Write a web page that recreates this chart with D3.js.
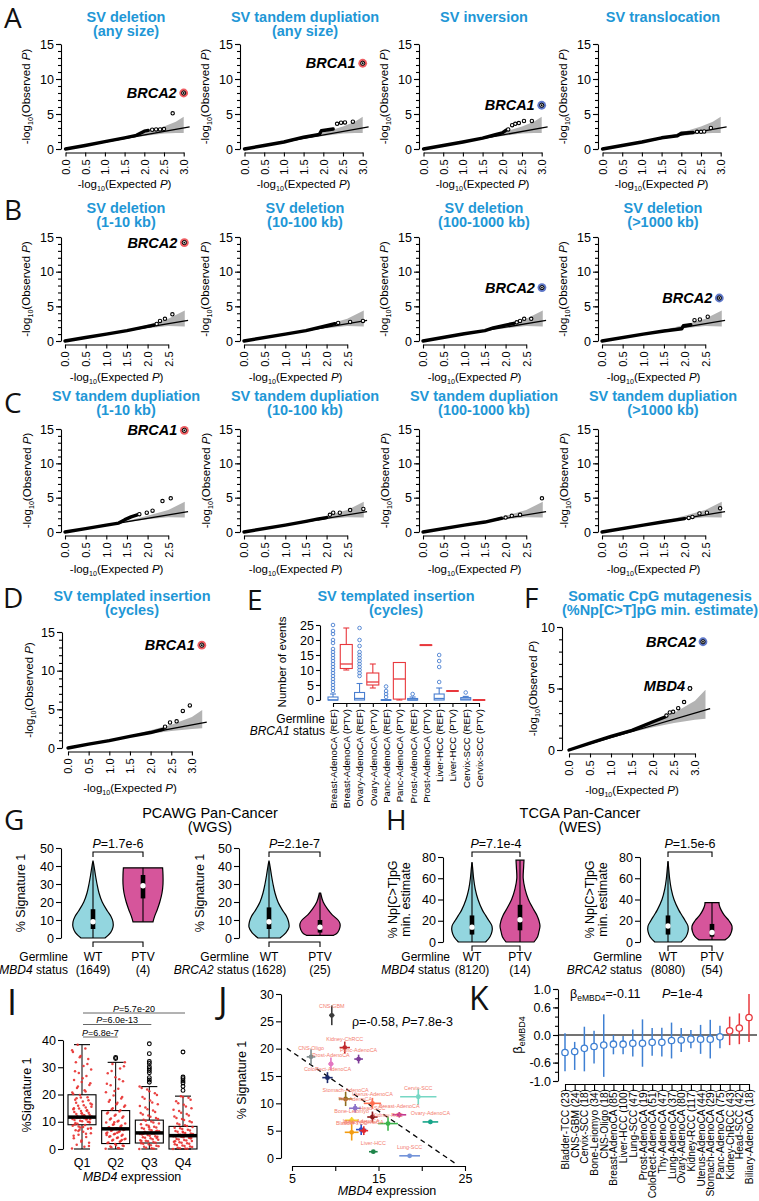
<!DOCTYPE html>
<html><head><meta charset="utf-8">
<script src="https://cdn.jsdelivr.net/npm/d3@7"></script>
<style>body{margin:0;background:#fff}svg{display:block}</style>
</head><body>
<script>
// ================= DATA =================
// QQ plots: points are [expected -log10 P, observed -log10 P]
const titlesA = [["SV deletion","(any size)"],["SV tandem dupliation","(any size)"],["SV inversion"],["SV translocation"]];
const bulkA = [
  [[0,0],[0.5,0.5],[1.0,1.05],[1.5,1.6],[1.8,1.95],[2.0,2.55],[2.1,2.65]],
  [[0,0],[0.5,0.5],[1.0,1.0],[1.5,1.7],[1.9,2.1],[1.95,2.6],[2.25,2.85]],
  [[0,0],[0.5,0.5],[1.0,1.0],[1.5,1.55],[1.8,2.0],[2.0,2.3],[2.1,2.7]],
  [[0,0],[0.5,0.5],[1.0,1.0],[1.5,1.6],[1.9,1.9],[2.0,2.25],[2.3,2.35]]
];
const tailA = [
  [[2.2,2.75],[2.3,2.8],[2.4,2.8],[2.5,2.85],[2.72,5.1]],
  [[2.35,3.6],[2.45,3.75],[2.55,3.8],[2.75,3.9]],
  [[2.15,2.8],[2.25,3.4],[2.33,3.6],[2.42,3.7],[2.55,4.0],[2.75,4.0]],
  [[2.4,2.45],[2.5,2.45],[2.58,2.5],[2.75,3.0]]
];
const hitsA = [[["BRCA2",3.0,8.0,"red"]],[["BRCA1",3.0,12.25,"red"]],[["BRCA1",3.0,6.25,"blue"]],[]];

const titlesB = [["SV deletion","(1-10 kb)"],["SV deletion","(10-100 kb)"],["SV deletion","(100-1000 kb)"],["SV deletion","(>1000 kb)"]];
const bulkB = [
  [[0,0],[0.5,0.5],[1.0,1.0],[1.5,1.5],[2.0,2.1],[2.15,2.3]],
  [[0,0],[1.0,1.0],[1.5,1.5],[2.0,2.2],[2.2,2.5]],
  [[0,0],[1.0,1.05],[1.5,1.5],[1.7,1.9],[2.0,2.3],[2.2,2.55]],
  [[0,0],[1.0,1.0],[1.5,1.45],[1.93,1.75],[1.97,2.2],[2.15,2.35]]
];
const tailB = [
  [[2.22,2.45],[2.3,2.9],[2.42,3.2],[2.6,3.85]],
  [[2.28,2.6],[2.57,2.75],[2.88,2.9]],
  [[2.27,2.7],[2.35,2.9],[2.45,3.2],[2.62,3.2]],
  [[2.24,3.0],[2.37,3.1],[2.56,3.5]]
];
const hitsB = [[["BRCA2",2.89,14.2,"red"]],[],[["BRCA2",2.88,7.7,"blue"]],[["BRCA2",2.84,6.2,"blue"]]];

const titlesC = [["SV tandem dupliation","(1-10 kb)"],["SV tandem dupliation","(10-100 kb)"],["SV tandem dupliation","(100-1000 kb)"],["SV tandem dupliation","(>1000 kb)"]];
const bulkC = [
  [[0,0],[0.5,0.5],[1.0,1.0],[1.3,1.3],[1.45,1.8],[1.6,2.2],[1.75,2.5]],
  [[0,0],[1.0,1.0],[1.5,1.55],[1.8,1.9],[2.0,2.1]],
  [[0,0],[1.0,1.0],[1.5,1.45],[1.9,2.0]],
  [[0,0],[1.0,1.0],[1.5,1.5],[2.0,1.95]]
];
const tailC = [
  [[1.8,2.6],[1.98,2.8],[2.12,3.1],[2.36,4.5],[2.56,4.9]],
  [[2.08,2.5],[2.16,2.8],[2.32,2.8],[2.57,3.2],[2.89,3.35]],
  [[2.0,2.1],[2.15,2.35],[2.35,2.5],[2.88,4.9]],
  [[2.1,2.05],[2.19,2.2],[2.36,2.7],[2.54,2.8],[2.86,3.45]]
];
const hitsC = [[["BRCA1",2.89,14.8,"red"]],[],[],[]];

const titleD = ["SV templated insertion","(cycles)"];
const bulkD = [[0,0],[0.5,0.5],[1.0,0.95],[1.5,1.5],[2.0,2.0],[2.3,2.4]];
const tailD = [[2.35,2.75],[2.47,3.3],[2.63,3.45],[2.78,4.8],[2.95,5.5]];
const hitsD = [["BRCA1",3.24,13.3,"red"]];

const titleF = ["Somatic CpG mutagenesis","(%Np[C>T]pG min. estimate)"];
const bulkF = [[0,0],[0.5,0.55],[1.0,1.1],[1.5,1.6],[2.0,2.3],[2.3,2.7]];
const tailF = [[2.32,2.8],[2.4,3.05],[2.48,3.1],[2.6,3.4],[2.74,3.9],[2.88,5.0]];
const hitsF = [["BRCA2",3.19,8.8,"blue"],["MBD4",2.88,5.0,"none"]];

// 95% band: [expected, lower, upper]
const bandA = [[1.5,1.45,1.6],[2.0,1.85,2.35],[2.5,2.2,3.2],[2.8,2.3,3.9],[3.0,2.3,4.6]];
const bandBC = [[1.5,1.45,1.6],[2.0,1.85,2.35],[2.5,2.15,3.2],[2.9,2.1,4.4]];
const bandDF = [[1.5,1.45,1.6],[2.0,1.85,2.3],[2.5,2.2,3.0],[3.0,2.45,4.0],[3.25,2.55,4.9]];

// Panel E boxplots: [min, q1, median, q3, max]
const eTitle = ["SV templated insertion","(cycles)"];
const eCats = ["Breast-AdenoCA (REF)","Breast-AdenoCA (PTV)","Ovary-AdenoCA (REF)","Ovary-AdenoCA (PTV)","Panc-AdenoCA (REF)","Panc-AdenoCA (PTV)","Prost-AdenoCA (REF)","Prost-AdenoCA (PTV)","Liver-HCC (REF)","Liver-HCC (PTV)","Cervix-SCC (REF)","Cervix-SCC (PTV)"];
const eStats = [[0,0,0,1,2],[10,10.5,12,18.5,24],[0,0,0.5,2.5,5.5],[4,5,6,9,12],[0,0,0,0,0],[0,0.3,7,12.5,12.5],[0,0,0,0.5,1],[18.3,18.3,18.3,18.3,18.3],[0,0,0.5,2,4],[3,3,3,3,3],[0,0,0.3,0.8,1.2],[0,0,0,0,0]];
const eOutliers = [[3,4,5,6,7,8,9,10,11,12,13,14,15,16,17,19,20,22,23,25],[],[8,9,10,11,12,13,14,15,16,18,20,24],[],[1,2,3,4.5],[],[2],[],[6,11,13,15],[],[2.5],[]];

// Panels G/H violins: [value, relative density]
const vG_MBD4_WT = [[0,0.6],[3,0.88],[6,1],[9,1],[12,0.9],[15,0.72],[20,0.46],[25,0.3],[30,0.2],[35,0.12],[40,0.05],[43,0]];
const vG_MBD4_PTV = [[9,0.5],[12,0.58],[16,0.72],[20,0.84],[25,0.95],[30,1],[35,1],[39,0.98]];
const vG_BRCA2_WT = [[0,0.55],[3,0.85],[6,1],[9,0.98],[12,0.88],[15,0.7],[20,0.45],[25,0.3],[30,0.2],[35,0.12],[40,0.05],[43,0]];
const vG_BRCA2_PTV = [[1.5,0.68],[3,0.88],[6,1],[8,1],[10,0.9],[13,0.6],[16,0.38],[20,0.16],[25,0.03]];
const vH_MBD4_WT = [[0,0.68],[5,0.9],[10,1],[15,1],[20,0.85],[25,0.68],[30,0.52],[40,0.3],[50,0.16],[60,0.08],[70,0.03],[75,0]];
const vH_MBD4_PTV = [[0,0.7],[5,0.88],[10,0.95],[15,1],[20,0.95],[25,0.85],[30,0.7],[40,0.42],[50,0.25],[60,0.16],[70,0.18],[77,0.2]];
const vH_BRCA2_WT = [[0,0.66],[5,0.9],[10,1],[15,1],[20,0.86],[25,0.7],[30,0.54],[40,0.3],[50,0.16],[60,0.08],[70,0.03],[76,0]];
const vH_BRCA2_PTV = [[2,0.65],[5,0.85],[10,0.98],[15,1],[20,0.85],[25,0.62],[30,0.46],[35,0.36],[37,0.35]];
// [min, q1, median, q3, max] for WT, PTV
const bG_MBD4 = [[0,5,9,16,42],[9,22,29,35,39]];
const bG_BRCA2 = [[0,5,9,17,42],[1.5,3,6,10,25]];
const bH_MBD4 = [[0,7,14,25,75],[0,11,21,35,77]];
const bH_BRCA2 = [[0,7,15,25,76],[2,5,9,17,37]];
const groupsGH = ["WT","PTV"];
const countsG = [["(1649)","(4)"],["(1628)","(25)"]];
const countsH = [["(8120)","(14)"],["(8080)","(54)"]];
const pvalsG = ["1.7e-6","2.1e-7"];
const pvalsH = ["7.1e-4","1.5e-6"];

// Panel I
const iGroups = ["Q1","Q2","Q3","Q4"];
const iStats = [[0,8.9,11.7,19.9,38.3],[0,2.0,7.4,14.1,31.8],[0,2.2,5.9,10.6,22.9],[0,0,4.9,8.3,19.4]];
const iQ1 = [0.2,0.8,1.6,2.3,3.1,3.9,4.4,5.2,5.8,6.3,6.9,7.4,7.9,8.5,8.8,9.3,9.7,10.2,10.6,11.1,11.5,11.9,12.4,12.8,13.3,13.9,14.6,15.2,15.9,16.7,17.4,18.1,19.0,19.8,20.7,21.6,22.4,23.5,24.6,25.3,26.8,27.9,29.2,30.5,31.8,33.0,34.1,35.6,36.9,38.3,10.9,12.1,9.0,14.2,7.1,16.3,11.3,18.6,
  1.1,2.7,4.9,5.6,6.6,7.7,8.1,9.5,10.0,10.4,11.0,11.7,12.0,12.6,13.0,13.6,14.0,14.9,15.5,16.1,17.0,17.9,18.9,20.2,21.1,22.9,24.1,26.0,28.5,31.2,33.7,36.2,12.3,11.4,9.9,13.1,15.0,10.8,8.3,7.5];
const iQ2 = [0.1,0.4,0.9,1.3,1.8,2.2,2.7,3.1,3.6,4.0,4.5,4.9,5.4,5.8,6.2,6.7,7.0,7.4,7.8,8.3,8.9,9.4,10.1,10.8,11.5,12.2,13.0,13.8,14.6,15.5,16.4,17.3,18.5,19.6,20.8,22.1,23.4,24.9,26.3,27.8,29.5,31.2,31.8,6.0,7.6,3.3,9.8,5.1,
  0.3,0.6,1.1,1.5,2.4,2.9,3.4,3.8,4.2,4.7,5.2,5.6,6.1,6.5,6.9,7.2,7.6,8.0,8.6,9.1,9.7,10.4,11.2,11.9,12.6,13.4,14.2,15.0,16.0,17.0,18.0,19.1,21.3,23.9,25.6,28.6,30.4,7.3,7.5,7.7];
const iQ3 = [0,0.3,0.8,1.2,1.7,2.1,2.6,3.0,3.4,3.9,4.3,4.7,5.1,5.5,5.9,6.3,6.7,7.2,7.7,8.2,8.8,9.4,10.1,10.7,11.4,12.3,13.2,14.1,15.2,16.4,17.8,19.1,20.5,21.8,22.9,5.7,6.1,4.0,8.0,2.9,
  0.1,0.5,1.0,1.4,1.9,2.3,2.8,3.2,3.6,4.1,4.5,4.9,5.3,5.7,6.0,6.5,6.9,7.4,7.9,8.5,9.1,9.7,10.4,11.0,11.8,12.7,13.6,14.6,15.8,17.1,18.4,19.8,21.2,22.4,5.8,5.9,6.0,6.2,5.6,6.4];
const iQ4 = [0,0.2,0.5,0.9,1.3,1.7,2.1,2.5,2.9,3.3,3.7,4.1,4.5,4.8,5.0,5.3,5.7,6.1,6.6,7.1,7.6,8.1,8.7,9.4,10.2,11.0,11.9,12.8,13.9,15.0,16.2,17.5,18.8,19.4,4.7,5.1,4.9,3.9,6.3,2.8,
  0.1,0.3,0.7,1.1,1.5,1.9,2.3,2.7,3.1,3.5,3.9,4.3,4.6,4.9,5.2,5.5,5.9,6.3,6.8,7.3,7.8,8.4,9.0,9.8,10.6,11.4,12.3,13.3,14.4,15.6,16.8,18.1,19.1,4.8,4.9,5.0,4.7,5.1,4.9,5.0];
const iOutliers = [[],[33.2,33.6],[24.5,25.3,26.2,28.0,28.8,29.5,30.2,31.4,32.1,35.0,38.6],[21.5,23.0,24.2,25.0,25.8,26.4,35.6]];
const iTests = [["Q1","Q2","6.8e-7"],["Q1","Q3","6.0e-13"],["Q1","Q4","5.7e-20"]];

// Panel J
const jNames = ["CNS-GBM","Kidney-ChRCC","Panc-AdenoCA","CNS-Oligo","Prost-AdenoCA","ColoRect-AdenoCA","Stomach-AdenoCA","Uterus-AdenoCA","Thy-AdenoCA","Head-SCC","Breast-AdenoCA","Bone-Leiomyo","Kidney-RCC","Lung-AdenoCA","Biliary-AdenoCA","Bladder-TCC","Cervix-SCC","Ovary-AdenoCA","Liver-HCC","Lung-SCC"];
const jExpr = [9.6,11.1,12.7,7.2,9.5,9.1,11.2,14.3,12.3,14.3,17.4,11.9,16.1,13.0,13.3,11.9,19.6,21.0,14.4,18.6];
const jSig = [26.1,20.2,18.1,18.5,17.2,14.7,10.8,10.0,9.1,7.5,7.9,6.9,6.3,5.2,5.0,4.7,11.2,6.6,1.15,0.4];
const jExprErr = [0.3,0.6,0.5,0.5,0.3,0.6,0.8,1.0,0.7,0.6,0.8,0.8,1.15,0.6,0.5,0.8,2.1,0.9,0.5,1.2];
const jSigErr = [1.8,1.1,0.8,1.4,1.2,1.0,1.3,1.0,0.8,1.0,0.5,0.6,1.3,1.0,0.8,1.5,1.5,0.4,0.3,0.3];
const jColors = ["#3a3a3a","#c0282d","#7d3c98","#7f8c8d","#e377c2","#1b2a6b","#8c6d1f","#ff6f4f","#8a72c9","#8b1a1a","#c2398f","#f5d327","#3cb44b","#2d4fc8","#e0282e","#f39c12","#76d7c4","#17a589","#1e8449","#7393d9"];
const jFit = {intercept: 24.8, slope: -1.08, from: 4.4, to: 23.9};

// Panel K
const kTypes = ["Bladder-TCC","CNS-GBM","Cervix-SCC","Bone-Leiomyo","CNS-Oligo","Breast-AdenoCA","Liver-HCC","Lung-SCC","Prost-AdenoCA","ColoRect-AdenoCA","Thy-AdenoCA","Lung-AdenoCA","Ovary-AdenoCA","Kidney-RCC","Uterus-AdenoCA","Stomach-AdenoCA","Panc-AdenoCA","Kidney-ChRCC","Head-SCC","Biliary-AdenoCA"];
const kN = [23,24,18,34,18,85,100,47,19,51,47,37,80,117,44,29,75,43,42,18];
const kBeta = [-0.38,-0.36,-0.29,-0.25,-0.22,-0.20,-0.20,-0.18,-0.18,-0.16,-0.16,-0.12,-0.11,-0.09,-0.09,-0.09,-0.04,0.09,0.15,0.38];
const kLo = [-0.79,-0.76,-0.79,-0.62,-0.91,-0.42,-0.42,-0.47,-0.69,-0.45,-0.47,-0.51,-0.37,-0.29,-0.41,-0.51,-0.29,-0.22,-0.20,-0.15];
const kHi = [0.04,-0.15,0.18,0.09,0.45,0.00,-0.02,0.12,0.34,0.15,0.16,0.27,0.15,0.11,0.22,0.33,0.20,0.40,0.47,0.89];

// ================= DRAWING =================
const FONT = "'Liberation Sans', Arial, Helvetica, sans-serif";
const TBLUE = "#1f97d6";
const EBLUE = "#4a7fd0", ERED = "#e8383d";
const TEAL = "#93d6df", PINK = "#d6559b";
const svg = d3.select("body").append("svg").attr("width",759).attr("height",1201)
  .attr("font-family", FONT);
svg.append("rect").attr("width",759).attr("height",1201).attr("fill","#fff");

function styleAx(a, fs){
  a.attr("font-family", FONT).attr("font-size", fs);
  a.selectAll(".domain,line").attr("stroke","#000").attr("stroke-width",1.1);
  a.selectAll("text").attr("fill","#000");
}
function yAxis(g, scale, xPos, major, minor, fmt, fs, majLen, minLen){
  majLen = majLen ?? 5; minLen = minLen ?? 3;
  if (minor){
    const m = g.append("g").attr("transform",`translate(${xPos},0)`)
      .call(d3.axisLeft(scale).tickValues(minor).tickSize(minLen).tickSizeOuter(0).tickFormat(""));
    m.select(".domain").remove();
    m.selectAll("line").attr("stroke","#000").attr("stroke-width",1.1);
  }
  const a = g.append("g").attr("transform",`translate(${xPos},0)`)
    .call(d3.axisLeft(scale).tickValues(major).tickSize(majLen).tickSizeOuter(0).tickPadding(2).tickFormat(fmt || (d=>String(d))));
  styleAx(a, fs || 12.5);
  return a;
}
function xAxisRot(g, scale, yPos, ticks, fmt, fs, tl){
  const a = g.append("g").attr("transform",`translate(0,${yPos})`)
    .call(d3.axisBottom(scale).tickValues(ticks).tickSize(tl||4).tickSizeOuter(0).tickFormat(fmt));
  styleAx(a, fs);
  a.selectAll("text").attr("transform","rotate(-90)").attr("x",-((tl||4)+3)).attr("y",0).attr("dy","0.35em").attr("text-anchor","end");
  return a;
}
function logLabel(g, x, y, word, fs, rotate){
  const t = g.append("text").attr("transform",`translate(${x},${y})${rotate?" rotate(-90)":""}`)
    .attr("text-anchor","middle").attr("font-size",fs).attr("fill","#000");
  t.append("tspan").text("-log");
  t.append("tspan").attr("font-size",fs*0.62).attr("dy",fs*0.28).text("10");
  t.append("tspan").attr("dy",-fs*0.28).text("(" + word + "\u00A0");
  t.append("tspan").attr("font-style","italic").text("P");
  t.append("tspan").text(")");
}
function blueTitle(g, cx, y, lines){
  lines.forEach((t,i)=>g.append("text").attr("x",cx).attr("y",y+i*14).attr("text-anchor","middle")
    .attr("font-size",14.5).attr("font-weight","bold").attr("fill",TBLUE).text(t));
}

function qq(o){
  const g = svg.append("g");
  const x = d3.scaleLinear().domain([0,1]).range([o.x0, o.x0 + o.xu]);
  const y = d3.scaleLinear().domain([0,o.yMax]).range([o.y0, o.yTop]);
  if (o.title) blueTitle(g, o.tx, o.ty, o.title);
  g.append("path").datum(o.band)
    .attr("d", d3.area().x(d=>x(d[0])).y0(d=>y(d[1])).y1(d=>y(d[2])))
    .attr("fill","#b3b3b3");
  g.append("line").attr("x1",x(0)).attr("y1",y(0)).attr("x2",x(o.lineMax)).attr("y2",y(o.lineMax))
    .attr("stroke","#000").attr("stroke-width",1.3);
  g.append("path").datum(o.bulk)
    .attr("d", d3.line().x(d=>x(d[0])).y(d=>y(d[1])))
    .attr("fill","none").attr("stroke","#000").attr("stroke-width",3.4)
    .attr("stroke-linejoin","round").attr("stroke-linecap","round");
  g.append("g").selectAll("circle").data(o.tail).join("circle")
    .attr("cx",d=>x(d[0])).attr("cy",d=>y(d[1])).attr("r",1.7)
    .attr("fill","#fff").attr("stroke","#000").attr("stroke-width",1.1);
  (o.hits||[]).forEach(h=>{
    const [gene,hx,hy,col] = h;
    const cx = x(hx), cy = y(hy);
    if (col !== "none"){
      g.append("circle").attr("cx",cx).attr("cy",cy).attr("r",4.4).attr("fill", col==="red" ? "#ee5d62" : "#5f78c9");
      g.append("circle").attr("cx",cx).attr("cy",cy).attr("r",2.1).attr("fill","#ddd").attr("stroke","#000").attr("stroke-width",1);
      g.append("circle").attr("cx",cx).attr("cy",cy).attr("r",0.9).attr("fill","#000");
    } else {
      g.append("circle").attr("cx",cx).attr("cy",cy).attr("r",1.9).attr("fill","#fff").attr("stroke","#000").attr("stroke-width",1.1);
    }
    g.append("text").attr("x",cx - (col==="none"?5:7)).attr("y",cy - (col==="none"?3:0)).attr("dy","0.35em")
      .attr("text-anchor","end").attr("font-size",14.5).attr("font-weight","bold").attr("font-style","italic")
      .attr("fill","#000").text(gene);
  });
  yAxis(g, y, o.ax, d3.range(0, o.yMax+0.01, 5), d3.range(0, o.yMax+0.01, 1), null, 12.5);
  const xs = d3.scaleLinear().domain([0,o.xMaxTick]).range([x(0), x(o.xMaxTick)]);
  xAxisRot(g, xs, o.y0 + 3.5, d3.range(0, o.xMaxTick+0.01, 0.5), d3.format(".1f"), 11);
  logLabel(g, o.ax - o.ylOff, (o.y0 + o.yTop)/2, "Observed", 11.5, true);
  logLabel(g, (x(0)+xs(o.xMaxTick))/2, o.y0 + o.xlOff, "Expected", 11.5, false);
}

// Row A, B, C
const colAx = [61,240,419,598];
colAx.forEach((ax,i)=>{
  qq({ax, x0:ax+4.5, xu:39.4, y0:149, yTop:44, yMax:15, title:titlesA[i], tx:ax+65, ty:21.5,
      band:bandA, bulk:bulkA[i], tail:tailA[i], hits:hitsA[i], lineMax:3.15, xMaxTick:3.0, ylOff:31, xlOff:39});
  qq({ax, x0:ax+4, xu:41.3, y0:341, yTop:237, yMax:15, title:titlesB[i], tx:ax+65, ty:213,
      band:bandBC, bulk:bulkB[i], tail:tailB[i], hits:hitsB[i], lineMax:2.98, xMaxTick:2.5, ylOff:31, xlOff:40});
  qq({ax, x0:ax+4, xu:41.3, y0:532, yTop:429, yMax:15, title:titlesC[i], tx:ax+65, ty:401,
      band:bandBC, bulk:bulkC[i], tail:tailC[i], hits:hitsC[i], lineMax:2.98, xMaxTick:2.5, ylOff:30, xlOff:41});
});
// D
qq({ax:62, x0:68, xu:41.3, y0:748, yTop:632, yMax:15, title:titleD, tx:132, ty:601,
    band:bandDF, bulk:bulkD, tail:tailD, hits:hitsD, lineMax:3.36, xMaxTick:3.0, ylOff:29, xlOff:44});
// F
qq({ax:562, x0:569, xu:42, y0:750, yTop:627, yMax:10, title:titleF, tx:660, ty:601,
    band:bandDF, bulk:bulkF, tail:tailF, hits:hitsF, lineMax:3.36, xMaxTick:3.0, ylOff:25, xlOff:44});

// ---------- Panel E ----------
(function(){
  const g = svg.append("g");
  blueTitle(g, 396, 601, eTitle);
  const x = d3.scalePoint().domain(eCats).range([333,479]);
  const y = d3.scaleLinear().domain([0,25]).range([700,625]);
  eCats.forEach((c,i)=>{
    const [lo,q1,md,q3,hi] = eStats[i];
    const ref = c.includes("(REF)");
    const col = ref ? EBLUE : ERED;
    const cx = x(c), w = ref ? 5 : 6;
    const gg = g.append("g").attr("stroke",col).attr("fill","none").attr("stroke-width",1.1);
    if (hi > q3){
      gg.append("line").attr("x1",cx).attr("x2",cx).attr("y1",y(q3)).attr("y2",y(hi));
      gg.append("line").attr("x1",cx-3).attr("x2",cx+3).attr("y1",y(hi)).attr("y2",y(hi));
    }
    if (lo < q1){
      gg.append("line").attr("x1",cx).attr("x2",cx).attr("y1",y(q1)).attr("y2",y(lo));
      gg.append("line").attr("x1",cx-3).attr("x2",cx+3).attr("y1",y(lo)).attr("y2",y(lo));
    }
    gg.append("rect").attr("x",cx-w).attr("width",2*w).attr("y",y(q3)).attr("height",Math.max(0.01,y(q1)-y(q3)));
    gg.append("line").attr("x1",cx-w).attr("x2",cx+w).attr("y1",y(md)).attr("y2",y(md)).attr("stroke-width",q1===q3?2:1.3);
    gg.selectAll("circle").data(eOutliers[i]).join("circle")
      .attr("cx",cx).attr("cy",d=>y(d)).attr("r",1.8).attr("stroke-width",0.9);
  });
  yAxis(g, y, 320, d3.range(0,26,5), null, null, 12.5, 4);
  const xa = g.append("g").attr("transform","translate(0,703)")
    .call(d3.axisBottom(x).tickSize(4).tickSizeOuter(0));
  styleAx(xa, 9.6);
  xa.selectAll("text").attr("transform","rotate(-90)").attr("x",-6).attr("y",0).attr("dy","0.35em").attr("text-anchor","end");
  g.append("text").attr("transform","translate(286,662) rotate(-90)").attr("text-anchor","middle")
    .attr("font-size",11.5).text("Number of events");
  g.append("text").attr("x",325).attr("y",723).attr("text-anchor","end").attr("font-size",12).text("Germline");
  const t2 = g.append("text").attr("x",325).attr("y",735).attr("text-anchor","end").attr("font-size",12);
  t2.append("tspan").attr("font-style","italic").text("BRCA1");
  t2.append("tspan").text(" status");
})();

// ---------- Panels G, H ----------
function violinPlot(o){
  const g = svg.append("g");
  const y = d3.scaleLinear().domain([0,o.yMax]).range([o.y0,o.yTop]);
  const x = d3.scalePoint().domain(groupsGH).range(o.cx);
  groupsGH.forEach((k,i)=>{
    const cx = x(k);
    const area = d3.area().curve(d3.curveCatmullRom.alpha(0.5))
      .y(d=>y(d[0])).x0(d=>cx - o.maxW*d[1]).x1(d=>cx + o.maxW*d[1]);
    g.append("path").datum(o.shapes[i]).attr("d",area)
      .attr("fill", i ? PINK : TEAL).attr("stroke","#000").attr("stroke-width",1.2);
    const [lo,q1,md,q3,hi] = o.stats[i];
    g.append("line").attr("x1",cx).attr("x2",cx).attr("y1",y(lo)).attr("y2",y(hi)).attr("stroke","#000").attr("stroke-width",1.1);
    g.append("rect").attr("x",cx-2.3).attr("width",4.6).attr("y",y(q3)).attr("height",y(q1)-y(q3)).attr("fill","#000");
    g.append("circle").attr("cx",cx).attr("cy",y(md)).attr("r",2.7).attr("fill","#fff");
  });
  const bx0 = x("WT"), bx1 = x("PTV"), by = o.bracketY;
  g.append("path").attr("d",`M${bx0},${by+5}V${by}H${bx1}V${by+5}`).attr("fill","none").attr("stroke","#000").attr("stroke-width",1.1);
  const pt = g.append("text").attr("x",(bx0+bx1)/2).attr("y",by-4).attr("text-anchor","middle").attr("font-size",12.5);
  pt.append("tspan").attr("font-style","italic").text("P");
  pt.append("tspan").text("=" + o.pval);
  const ay = o.y0 + 4;
  g.append("path").attr("d",`M${bx0},${ay+5}V${ay}H${bx1}V${ay+5}`).attr("fill","none").attr("stroke","#000").attr("stroke-width",1.1);
  groupsGH.forEach((k,i)=>{
    g.append("text").attr("x",x(k)).attr("y",961).attr("text-anchor","middle").attr("font-size",12).text(k);
    g.append("text").attr("x",x(k)).attr("y",974).attr("text-anchor","middle").attr("font-size",12).text(o.counts[i]);
  });
  g.append("text").attr("x",o.germX).attr("y",961).attr("text-anchor","end").attr("font-size",12).text("Germline");
  const t2 = g.append("text").attr("x",o.germX).attr("y",974).attr("text-anchor","end").attr("font-size",12);
  t2.append("tspan").attr("font-style","italic").text(o.gene);
  t2.append("tspan").text(" status");
  yAxis(g, y, o.ax, d3.range(0,o.yMax+0.01,o.step), null, null, 12.5, 5);
  const cy = (o.y0 + o.yTop)/2;
  o.ylab.forEach((s,i)=>{
    g.append("text").attr("transform",`translate(${o.ax - o.ylOff + i*13},${cy}) rotate(-90)`)
      .attr("text-anchor","middle").attr("font-size",12.5).text(s);
  });
}
violinPlot({ax:61, y0:938, yTop:848, yMax:50, step:10, cx:[93,143], shapes:[vG_MBD4_WT,vG_MBD4_PTV], stats:bG_MBD4,
  maxW:20, bracketY:852, pval:pvalsG[0], counts:countsG[0], germX:68, gene:"MBD4", ylab:["% Signature 1"], ylOff:36});
violinPlot({ax:239, y0:938, yTop:848, yMax:50, step:10, cx:[269,320], shapes:[vG_BRCA2_WT,vG_BRCA2_PTV], stats:bG_BRCA2,
  maxW:20, bracketY:852, pval:pvalsG[1], counts:countsG[1], germX:249, gene:"BRCA2", ylab:["% Signature 1"], ylOff:35});
violinPlot({ax:443, y0:942, yTop:857, yMax:80, step:20, cx:[472,520], shapes:[vH_MBD4_WT,vH_MBD4_PTV], stats:bH_MBD4,
  maxW:20, bracketY:852, pval:pvalsH[0], counts:countsH[0], germX:450, gene:"MBD4", ylab:["% Np[C>T]pG","min. estimate"], ylOff:46});
violinPlot({ax:640, y0:942, yTop:857, yMax:80, step:20, cx:[668,712], shapes:[vH_BRCA2_WT,vH_BRCA2_PTV], stats:bH_BRCA2,
  maxW:20, bracketY:852, pval:pvalsH[1], counts:countsH[1], germX:642, gene:"BRCA2", ylab:["% Np[C>T]pG","min. estimate"], ylOff:46});
[["PCAWG Pan-Cancer","(WGS)",210],["TCGA Pan-Cancer","(WES)",580]].forEach(([a,b,cx])=>{
  svg.append("text").attr("x",cx).attr("y",818).attr("text-anchor","middle").attr("font-size",14.5).text(a);
  svg.append("text").attr("x",cx).attr("y",832).attr("text-anchor","middle").attr("font-size",14.5).text(b);
});

// ---------- Panel I ----------
(function(){
  const g = svg.append("g");
  const x = d3.scalePoint().domain(iGroups).range([82,183]);
  const y = d3.scaleLinear().domain([0,40]).range([1149,1040]);
  const pts = [iQ1,iQ2,iQ3,iQ4];
  iGroups.forEach((q,i)=>{
    const [lo,q1,md,q3,hi] = iStats[i];
    const cx = x(q), w = 14;
    g.append("rect").attr("x",cx-w).attr("width",2*w).attr("y",y(q3)).attr("height",y(q1)-y(q3))
      .attr("fill","none").attr("stroke","#000").attr("stroke-width",1.1);
    g.append("line").attr("x1",cx).attr("x2",cx).attr("y1",y(q3)).attr("y2",y(hi)).attr("stroke","#000");
    g.append("line").attr("x1",cx).attr("x2",cx).attr("y1",y(q1)).attr("y2",y(lo)).attr("stroke","#000");
    g.append("line").attr("x1",cx-8).attr("x2",cx+8).attr("y1",y(hi)).attr("y2",y(hi)).attr("stroke","#000").attr("stroke-width",1.1);
    g.append("line").attr("x1",cx-8).attr("x2",cx+8).attr("y1",y(lo)).attr("y2",y(lo)).attr("stroke","#000").attr("stroke-width",1.1);
    g.append("g").selectAll("circle").data(pts[i]).join("circle")
      .attr("cx",(d,j)=>cx + (((j*0.6180339887)%1) - 0.5)*20)
      .attr("cy",d=>y(d)).attr("r",1.25).attr("fill","#e8302f").attr("opacity",0.9);
    g.append("line").attr("x1",cx-w).attr("x2",cx+w).attr("y1",y(md)).attr("y2",y(md)).attr("stroke","#000").attr("stroke-width",3.5);
    g.append("g").selectAll("circle").data(iOutliers[i]).join("circle")
      .attr("cx",cx).attr("cy",d=>y(d)).attr("r",1.9).attr("fill","none").attr("stroke","#000").attr("stroke-width",1.1);
    g.append("text").attr("x",cx).attr("y",1167).attr("text-anchor","middle").attr("font-size",12.5).text(q);
  });
  yAxis(g, y, 63, d3.range(0,41,10), null, null, 12.5, 5);
  const lineY = [1037, 1024.5, 1013];
  iTests.forEach(([a,b,p],k)=>{
    const x0 = x(a)+1, x1 = x(b)+2;
    g.append("line").attr("x1",x0).attr("x2",x1).attr("y1",lineY[k]).attr("y2",lineY[k]).attr("stroke","#666").attr("stroke-width",1);
    const t = g.append("text").attr("x",(x0+x1)/2).attr("y",lineY[k]-1.5).attr("text-anchor","middle").attr("font-size",9);
    t.append("tspan").attr("font-style","italic").text("P");
    t.append("tspan").text("=" + p);
  });
  g.append("text").attr("transform","translate(31,1095) rotate(-90)").attr("text-anchor","middle").attr("font-size",12.5).text("%Signature 1");
  const xl = g.append("text").attr("x",132).attr("y",1181).attr("text-anchor","middle").attr("font-size",12.5);
  xl.append("tspan").attr("font-style","italic").text("MBD4");
  xl.append("tspan").text(" expression");
})();

// ---------- Panel J ----------
(function(){
  const g = svg.append("g");
  const x = d3.scaleLinear().domain([5,25]).range([292,465]);
  const y = d3.scaleLinear().domain([0,30]).range([1158,994]);
  g.append("line").attr("x1",x(jFit.from)).attr("y1",y(jFit.intercept + jFit.slope*jFit.from))
    .attr("x2",x(jFit.to)).attr("y2",y(jFit.intercept + jFit.slope*jFit.to))
    .attr("stroke","#000").attr("stroke-width",1.3).attr("stroke-dasharray","5,4");
  jNames.forEach((n,i)=>{
    const cx = x(jExpr[i]), cy = y(jSig[i]), c = jColors[i];
    g.append("line").attr("x1",x(jExpr[i]-jExprErr[i])).attr("x2",x(jExpr[i]+jExprErr[i])).attr("y1",cy).attr("y2",cy).attr("stroke",c).attr("stroke-width",1.6);
    g.append("line").attr("x1",cx).attr("x2",cx).attr("y1",y(jSig[i]-jSigErr[i])).attr("y2",y(jSig[i]+jSigErr[i])).attr("stroke",c).attr("stroke-width",1.6);
    g.append("circle").attr("cx",cx).attr("cy",cy).attr("r",2.4).attr("fill",c);
  });
  jNames.forEach((n,i)=>{
    g.append("text").attr("x",x(jExpr[i])).attr("y",y(jSig[i])-7).attr("text-anchor","middle")
      .attr("font-size",5.4).attr("fill","#f47c6e").text(n);
  });
  yAxis(g, y, 281, d3.range(0,31,5), null, null, 12.5, 5);
  const xa = g.append("g").attr("transform","translate(0,1166)")
    .call(d3.axisBottom(x).tickValues([5,10,15,20,25]).tickSize(5).tickSizeOuter(0).tickFormat(d=>d%10===5?String(d):""));
  styleAx(xa, 12.5);
  const rt = g.append("text").attr("x",352).attr("y",1026).attr("font-size",12.5);
  rt.append("tspan").text("\u03C1=-0.58, ");
  rt.append("tspan").attr("font-style","italic").text("P");
  rt.append("tspan").text("=7.8e-3");
  g.append("text").attr("transform","translate(246,1080) rotate(-90)").attr("text-anchor","middle").attr("font-size",12.5).text("% Signature 1");
  const xl = g.append("text").attr("x",387).attr("y",1195).attr("text-anchor","middle").attr("font-size",12.5);
  xl.append("tspan").attr("font-style","italic").text("MBD4");
  xl.append("tspan").text(" expression");
})();

// ---------- Panel K ----------
(function(){
  const g = svg.append("g");
  const x = d3.scalePoint().domain(kTypes).range([565,749]);
  const y = d3.scaleLinear().domain([-1,1]).range([1081,989]);
  g.append("line").attr("x1",558).attr("x2",757).attr("y1",y(0)).attr("y2",y(0)).attr("stroke","#444").attr("stroke-width",1.5);
  kTypes.forEach((t,i)=>{
    const c = kBeta[i] > 0 ? "#e8383d" : "#3f80d3";
    const cx = x(t);
    g.append("line").attr("x1",cx).attr("x2",cx).attr("y1",y(kLo[i])).attr("y2",y(kHi[i])).attr("stroke",c).attr("stroke-width",1.5);
    g.append("circle").attr("cx",cx).attr("cy",y(kBeta[i])).attr("r",3.2).attr("fill","#fff").attr("stroke",c).attr("stroke-width",1.3);
  });
  yAxis(g, y, 558, [-1,-0.6,0,0.6,1], d3.range(-1,1.01,0.2), d=>d.toFixed(1), 12.5, 5, 3);
  const xa = g.append("g").attr("transform","translate(0,1084)")
    .call(d3.axisBottom(x).tickSize(7).tickSizeOuter(0).tickFormat((d,i)=>`${d} (${kN[i]})`));
  styleAx(xa, 10.2);
  xa.selectAll("text").attr("transform","rotate(-90)").attr("x",-5).attr("y",0).attr("dy","0.35em").attr("text-anchor","end");
  const yl = g.append("text").attr("transform","translate(522,1035) rotate(-90)").attr("text-anchor","middle").attr("font-size",13);
  yl.append("tspan").text("\u03B2");
  yl.append("tspan").attr("font-size",9).attr("dy",3).text("eMBD4");
  const bt = g.append("text").attr("x",570).attr("y",998).attr("font-size",12.5);
  bt.append("tspan").text("\u03B2");
  bt.append("tspan").attr("font-size",8.5).attr("dy",3).text("eMBD4");
  bt.append("tspan").attr("dy",-3).text("=-0.11");
  const pt = g.append("text").attr("x",662).attr("y",998).attr("font-size",12.5);
  pt.append("tspan").attr("font-style","italic").text("P");
  pt.append("tspan").text("=1e-4");
})();

// ---------- Panel letters ----------
[["A",4,28,28],["B",4,220,28],["C",4,413,28],["D",3,608,28],["E",247,610,28],["F",524,608,28],
 ["G",4,830,28],["H",386,830,28],["I",7,1015,36],["J",218,1013,36],["K",469,1010,32]].forEach(([l,x,y,fs])=>{
  svg.append("text").attr("x",x).attr("y",y).attr("font-family","'Open Sans', 'Noto Sans', sans-serif")
    .attr("font-size",fs).attr("fill","#111").text(l);
});
</script>
</body></html>
